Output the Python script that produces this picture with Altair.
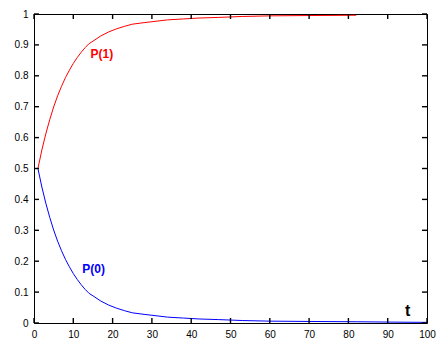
import altair as alt
import pandas as pd

# P(0) curve (blue)
t_p0 = [1, 2, 3, 4, 5, 6, 7, 8, 9, 10, 11, 12, 13, 14, 15, 17, 19, 21, 23, 25,
        28, 30, 34, 38, 42, 47, 53, 60, 70, 82, 90, 100]
p0 = [0.5, 0.44, 0.388, 0.342, 0.301, 0.265, 0.234, 0.206, 0.182, 0.16, 0.141,
      0.124, 0.109, 0.096, 0.088, 0.071, 0.058, 0.048, 0.040, 0.033, 0.028,
      0.025, 0.019, 0.016, 0.013, 0.011, 0.008, 0.006, 0.005, 0.004, 0.003, 0.002]

# P(1) curve (red)
t_p1 = [1, 2, 3, 4, 5, 6, 7, 8, 9, 10, 11, 12, 13, 14, 15, 17, 19, 21, 23, 25,
        28, 30, 34, 38, 42, 47, 53, 60, 70, 82]
p1 = [0.5, 0.56, 0.612, 0.658, 0.699, 0.735, 0.766, 0.794, 0.818, 0.84, 0.859,
      0.876, 0.891, 0.904, 0.912, 0.929, 0.942, 0.952, 0.960, 0.967, 0.972,
      0.975, 0.981, 0.984, 0.987, 0.989, 0.992, 0.994, 0.995, 0.996]

x_ticks = [0, 10, 20, 30, 40, 50, 60, 70, 80, 90, 100]
y_ticks = [0, 0.1, 0.2, 0.3, 0.4, 0.5, 0.6, 0.7, 0.8, 0.9, 1.0]

label_text = ["P(1)", "P(0)", "t"]
label_t = [14.4, 12.3, 94.4]
label_v = [0.871, 0.174, 0.039]
label_color = ["#ff0000", "#0000ff", "#000000"]
label_size = [12, 12, 16]

W, H = 393, 309
TL = 5

labels = pd.DataFrame({"t": label_t, "p": label_v, "text": label_text,
                       "color": label_color, "size": label_size})
xt = pd.DataFrame({"tx": x_ticks})
yt = pd.DataFrame({"py": y_ticks})

xscale = alt.Scale(domain=[0, 100], nice=False, zero=False)
yscale = alt.Scale(domain=[0, 1], nice=False)

xaxis = alt.Axis(values=x_ticks, ticks=False, domain=False, grid=False,
                 labelPadding=6, title=None, labelOverlap=False,
                 labelFlush=False)
yaxis = alt.Axis(values=y_ticks, ticks=False, domain=False, grid=False,
                 labelPadding=6, title=None, format=".1~f",
                 labelOverlap=False, labelFlush=False)

lines_blue = alt.Chart(pd.DataFrame({"t": t_p0, "p": p0})).mark_line(
    strokeWidth=1, color="#0000ff").encode(
    x=alt.X("t:Q", scale=xscale, axis=xaxis),
    y=alt.Y("p:Q", scale=yscale, axis=yaxis),
)
lines_red = alt.Chart(pd.DataFrame({"t": t_p1, "p": p1})).mark_line(
    strokeWidth=1, color="#ff0000").encode(
    x=alt.X("t:Q", scale=xscale, axis=xaxis),
    y=alt.Y("p:Q", scale=yscale, axis=yaxis),
)

text = alt.Chart(labels).mark_text(align="left", baseline="middle",
                                   fontWeight="bold", font="Liberation Sans").encode(
    x=alt.X("t:Q", scale=xscale, axis=xaxis),
    y=alt.Y("p:Q", scale=yscale, axis=yaxis),
    text="text:N",
    color=alt.Color("color:N", scale=None),
    size=alt.Size("size:Q", scale=None),
)

tick_style = dict(color="black", strokeWidth=1.4)
bt = alt.Chart(xt).mark_rule(**tick_style).encode(
    x=alt.X("tx:Q", scale=xscale, axis=xaxis),
    y=alt.value(H), y2=alt.value(H - TL))
tt = alt.Chart(xt).mark_rule(**tick_style).encode(
    x=alt.X("tx:Q", scale=xscale, axis=xaxis),
    y=alt.value(0), y2=alt.value(TL))
lt = alt.Chart(yt).mark_rule(**tick_style).encode(
    y=alt.Y("py:Q", scale=yscale, axis=yaxis),
    x=alt.value(0), x2=alt.value(TL))
rt = alt.Chart(yt).mark_rule(**tick_style).encode(
    y=alt.Y("py:Q", scale=yscale, axis=yaxis),
    x=alt.value(W), x2=alt.value(W - TL))

chart = alt.layer(lines_blue, lines_red, text, bt, tt, lt, rt).properties(
    width=W, height=H,
    autosize=alt.AutoSizeParams(type="none"),
    padding={"left": 34, "top": 14, "right": 12, "bottom": 29},
    background="white",
).configure_view(stroke="black", strokeWidth=1).configure_axis(
    labelFontSize=10, labelFont="Liberation Sans", labelColor="black",
    labelOverlap=False, labelFlush=False,
)

chart.save("out.html", embed_options={"renderer": "svg", "actions": False})
